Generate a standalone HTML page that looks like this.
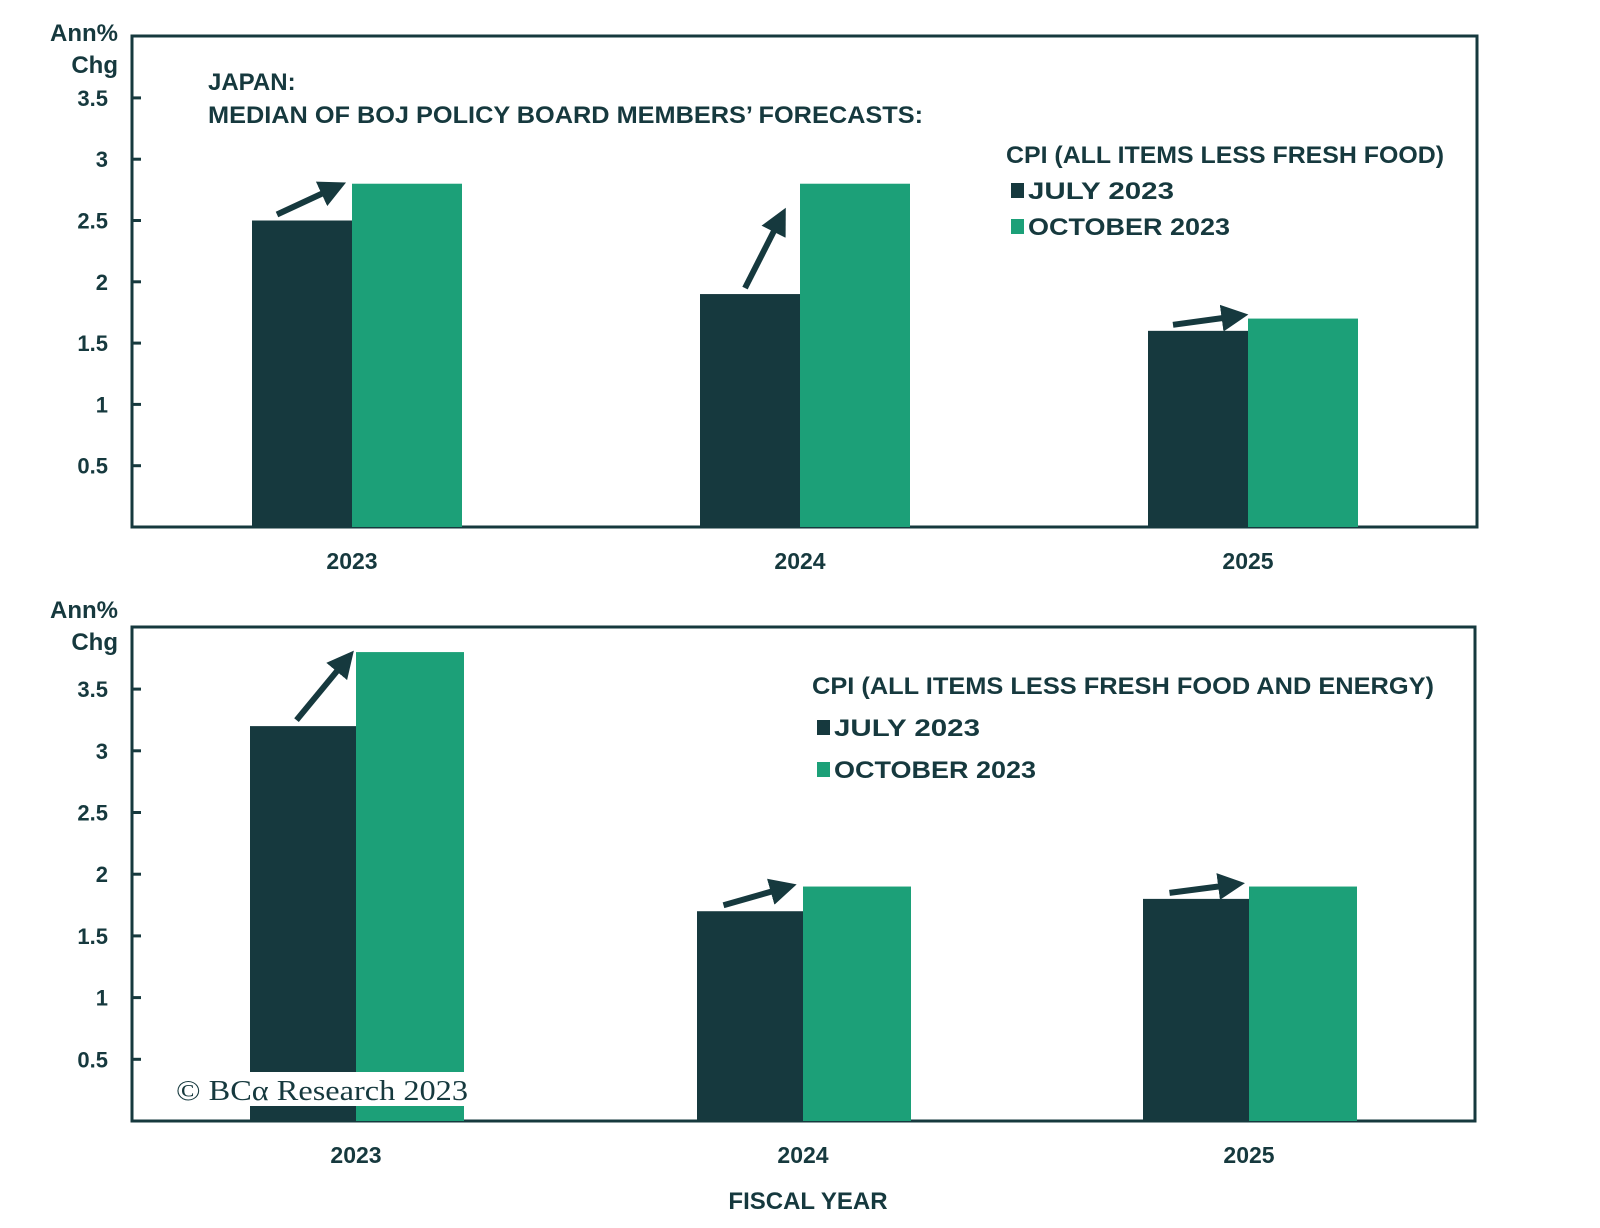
<!DOCTYPE html>
<html><head><meta charset="utf-8"><style>
html,body{margin:0;padding:0;background:#fff;}
svg{display:block;font-family:"Liberation Sans",sans-serif;font-weight:bold;fill:#16393e;}
</style></head><body>
<svg id="chart" width="1600" height="1228" viewBox="0 0 1600 1228" xmlns="http://www.w3.org/2000/svg">
<defs><marker id="ah" viewBox="0 0 10 10" refX="7" refY="5" markerWidth="4.5" markerHeight="4.5" orient="auto"><path d="M0,0 L10,5 L0,10 z" fill="#16393e"/></marker></defs>
</svg>
<script>
const years = ["2023","2024","2025"];
const topJuly = [2.5, 1.9, 1.6];
const topOct = [2.8, 2.8, 1.7];
const botJuly = [3.2, 1.7, 1.8];
const botOct = [3.8, 1.9, 1.9];
const tickLabels = ["0.5","1","1.5","2","2.5","3","3.5"];
const tickValues = [0.5,1,1.5,2,2.5,3,3.5];

const NS = "http://www.w3.org/2000/svg";
const svg = document.getElementById('chart');
const DARK = "#16393e", GREEN = "#1ca078";
function mk(tag, attrs, parent){
  const e = document.createElementNS(NS, tag);
  for (const k in attrs) e.setAttribute(k, attrs[k]);
  (parent||svg).appendChild(e); return e;
}
function txt(s, attrs, parent){ const t = mk('text', attrs, parent); t.textContent = s; return t; }

function panel(cfg){
  const g = mk('g', {});
  
  
  const y = v => cfg.base - v * cfg.unit;
  const fr = mk('rect', {x:cfg.left, y:cfg.top, width:cfg.right-cfg.left, height:cfg.base-cfg.top, fill:'none', stroke:DARK, 'stroke-width':3}, g);
  
  
  tickValues.forEach((v,i)=>{
    const tk = mk('line', {x1:cfg.left, x2:cfg.left+9, y1:y(v), y2:y(v), stroke:DARK, 'stroke-width':3}, g);
    
    
    const tl = txt(tickLabels[i], {x:108, y:y(v)+8, 'text-anchor':'end', 'font-size':22}, g);
    
    
  });
  const a1 = txt("Ann%", {x:118, y:cfg.annY, 'text-anchor':'end', 'font-size':24}, g);
  
  
  const a2 = txt("Chg", {x:118, y:cfg.annY+32, 'text-anchor':'end', 'font-size':24}, g);
  
  
  years.forEach((yr,i)=>{
    const x0 = cfg.barX[i];
    const bj = mk('rect', {x:x0, y:y(cfg.july[i]), width:cfg.wd, height:cfg.july[i]*cfg.unit, fill:DARK}, g);
    
    
    const bo = mk('rect', {x:x0+cfg.wd, y:y(cfg.oct[i]), width:cfg.wg, height:cfg.oct[i]*cfg.unit, fill:GREEN}, g);
    
    
    const xl = txt(yr, {x:x0+cfg.wd, y:cfg.base+42, 'text-anchor':'middle', 'font-size':23}, g);
    
    
    const big = cfg.oct[i]-cfg.july[i] > 0.5;
    const xs = x0 + cfg.wd*0.25 + (big ? 20 : 0), ys = y(cfg.july[i]) - 6;
    let dx = (x0 + cfg.wd) - xs, dy = (y(cfg.oct[i]) - 4) - ys;
    const L = Math.hypot(dx, dy), len = big ? 82 : 68;
    const xe = xs + dx/L*len, ye = ys + dy/L*len;
    const ar = mk('line', {x1:xs, y1:ys, x2:xe, y2:ye, stroke:DARK, 'stroke-width':6, 'marker-end':'url(#ah)'}, g);
    
    
  });
  return g;
}

const gTop = panel({name:'top-panel', left:132, right:1477, top:36, base:527, unit:122.6, annY:41,
  barX:[252,700,1148], wd:100, wg:110, july:topJuly, oct:topOct});
const gBot = panel({name:'bottom-panel', left:132, right:1475, top:627, base:1121, unit:123.4, annY:618,
  barX:[250,697,1143], wd:106, wg:108, july:botJuly, oct:botOct});

let t;
t = txt("JAPAN:", {x:208, y:90, 'font-size':24});


t = txt("MEDIAN OF BOJ POLICY BOARD MEMBERS’ FORECASTS:", {x:208, y:123, 'font-size':24, textLength:715, lengthAdjust:'spacingAndGlyphs'});



function legend(x, y0, title, tl, gap, name){
  const g = mk('g', {});
  
  
  const tt = txt(title, {x:x, y:y0, 'font-size':24, textLength:tl, lengthAdjust:'spacingAndGlyphs'}, g);
  
  
  [["JULY 2023",DARK,146],["OCTOBER 2023",GREEN,202]].forEach((e,i)=>{
    const by = y0 + gap*(i+1);
    const sq = mk('rect', {x:x+5, y:by-16, width:13, height:15, fill:e[1]}, g);
    
    
    const lt = txt(e[0], {x:x+22, y:by, 'font-size':24, textLength:e[2], lengthAdjust:'spacingAndGlyphs'}, g);
    
    
  });
}
legend(1006, 163, "CPI (ALL ITEMS LESS FRESH FOOD)", 438, 36, 'top-legend');
legend(812, 694, "CPI (ALL ITEMS LESS FRESH FOOD AND ENERGY)", 622, 42, 'bottom-legend');

t = txt("FISCAL YEAR", {x:808, y:1209, 'text-anchor':'middle', 'font-size':24});


const wb = mk('rect', {x:172, y:1072, width:300, height:34, fill:'#fff'});


t = txt("© BCα Research 2023", {x:176, y:1100, 'font-size':29, 'font-family':'"Liberation Serif",serif', 'font-weight':'normal', textLength:292, lengthAdjust:'spacingAndGlyphs'});


</script>
</body></html>
